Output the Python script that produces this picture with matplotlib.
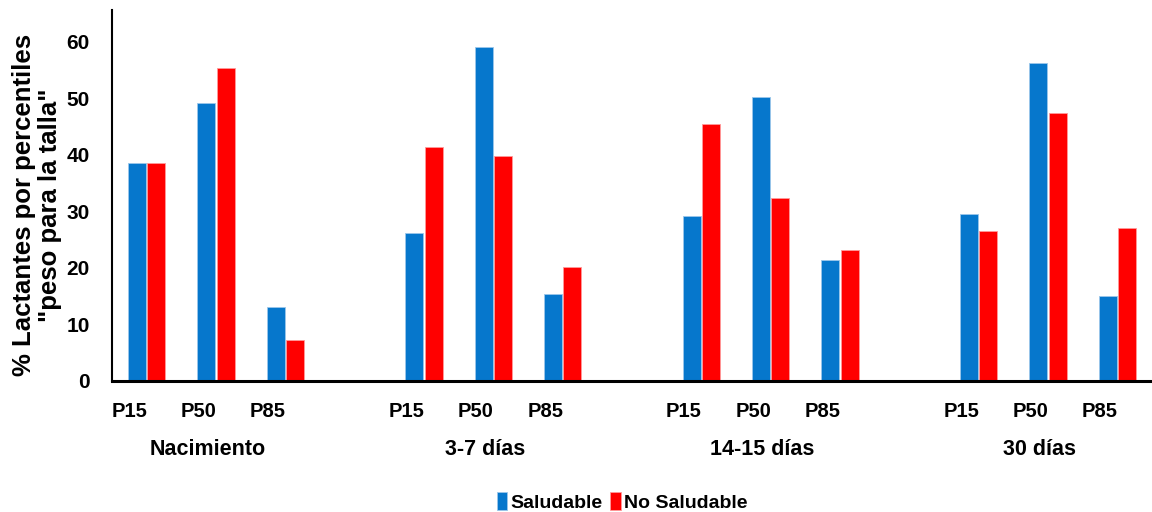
import matplotlib
matplotlib.use("Agg")
import matplotlib.pyplot as plt
import matplotlib.transforms as mtransforms
import numpy as np

plt.rcParams['font.family'] = ['Liberation Sans', 'DejaVu Sans']
plt.rcParams['font.weight'] = 'bold'

periods = ["Nacimiento", "3-7 días", "14-15 días", "30 días"]
percentiles = ["P15", "P50", "P85"]
saludable = [38.5, 49.2, 13.1, 26.2, 59.1, 15.4, 29.2, 50.2, 21.4, 29.6, 56.2, 15.0]
no_saludable = [38.5, 55.3, 7.2, 41.3, 39.7, 20.1, 45.4, 32.4, 23.1, 26.6, 47.4, 27.0]
series_names = ["Saludable", "No Saludable"]
colors = ["#0677CC", "#FF0000"]

fig = plt.figure(figsize=(11.52, 5.12), dpi=100)
ax = fig.add_axes([112/1152, 1-381/512, 1-112/1152, (381-10)/512])

# slot positions: 3 percentiles per period, one empty slot between periods
x = np.array([g*4 + i for g in range(len(periods)) for i in range(len(percentiles))], dtype=float)
w = 0.26
ax.bar(x - 0.14, saludable, width=w, color=colors[0], edgecolor='#9cc7ea', linewidth=0.6, label=series_names[0])
ax.bar(x + 0.14, no_saludable, width=w, color=colors[1], edgecolor='#ff9a9a', linewidth=0.6, label=series_names[1])

ax.set_xlim(-0.5, 14.5)
ax.set_ylim(0, 65.6)
ax.set_yticks([0, 10, 20, 30, 40, 50, 60])
ax.tick_params(axis='y', length=0, labelsize=15, pad=16)
for lbl in ax.get_yticklabels():
    lbl.set_fontweight('bold')

ax.set_xticks(x - 0.25)
ax.set_xticklabels(percentiles * len(periods), fontsize=14.5, fontweight='bold')
ax.tick_params(axis='x', length=0, pad=15)

trans = mtransforms.blended_transform_factory(ax.transData, ax.transAxes)
for g, name in enumerate(periods):
    ax.text(g*4 + 1 - 0.12, -0.185, name, transform=trans, ha='center', va='center',
            fontsize=15.5, fontweight='bold')

for s in ['top', 'right']:
    ax.spines[s].set_visible(False)
ax.spines['left'].set_linewidth(1.5)
ax.spines['bottom'].set_linewidth(2.2)
ax.spines['left'].set_color('black')
ax.spines['bottom'].set_color('black')

fig.text(37/1152, 1-205/512, '% Lactantes por percentiles\n"peso para la talla"',
         rotation=90, ha='center', va='center', fontsize=18.5, fontweight='bold',
         linespacing=1.1)

leg = fig.legend(loc='center', bbox_to_anchor=(622/1152, 1-502/512), ncol=2, frameon=False,
                 fontsize=14, handlelength=0.55, handleheight=1.0, handletextpad=0.15,
                 columnspacing=0.4)
for t in leg.get_texts():
    t.set_fontweight('bold')

fig.savefig("out.png", dpi=100)
